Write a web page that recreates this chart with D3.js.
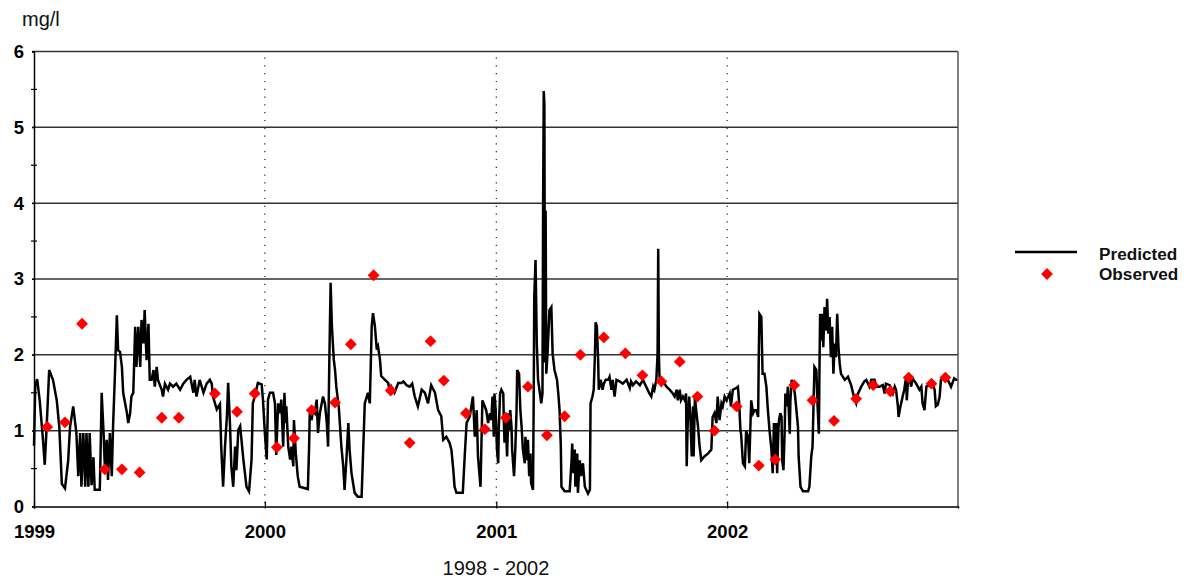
<!DOCTYPE html>
<html>
<head>
<meta charset="utf-8">
<script src="https://d3js.org/d3.v7.min.js"></script>
<style>
  body { margin: 0; background: #fff; }
  svg { display: block; font-family: "Liberation Sans", Arial, sans-serif; }
</style>
</head>
<body>
<svg width="1191" height="582"></svg>
<script>

// predicted concentration, [day of year, mg/l]
var pred1999 = [
  [0,0.80],[2,1.60],[5,1.68],[9,1.40],[14,0.90],[17,0.55],[20,1.05],[24,1.80],[30,1.67],[36,1.40],
  [40,1.05],[44,0.30],[49,0.24],[54,0.60],[57,1.05],[62,1.32],[67,0.97],[70,0.40],[73,0.97],[75,0.26],
  [78,0.97],[81,0.26],[83,0.97],[86,0.26],[88,0.97],[91,0.28],[94,0.65],[96,0.22],[104,0.22],[105,0.60],
  [107,1.50],[110,0.97],[112,0.53],[115,0.88],[117,0.35],[120,0.97],[123,0.40],[125,1.05],[128,1.75],[131,2.52],
  [133,2.06],[136,2.04],[139,1.84],[141,1.50],[147,1.23],[149,1.10],[152,1.23],[154,1.45],[157,1.50],[160,2.37],
  [162,1.84],[165,2.37],[168,1.84],[170,2.46],[173,2.15],[175,2.59],[178,1.93],[181,2.41],[183,1.67],[186,1.67],
  [189,1.80],[191,1.58],[194,1.84],[196,1.67],[202,1.54],[204,1.45],[207,1.62],[212,1.54],[215,1.62],[220,1.58],
  [225,1.62],[231,1.54],[236,1.62],[241,1.67],[247,1.71],[252,1.50],[254,1.67],[257,1.45],[262,1.67],[268,1.50],
  [273,1.62],[278,1.67],[281,1.62],[283,1.45],[289,1.28],[294,1.35],[296,0.79],[299,0.26],[302,0.79],[305,1.19],
  [307,1.63],[310,1.06],[312,0.53],[315,0.26],[318,0.79],[320,0.48],[323,1.01],[326,1.06],[331,0.62],[336,0.26],
  [340,0.20],[344,0.62],[346,1.36],[349,1.45],[354,1.63],[360,1.61],[362,1.41]
];
var pred2000 = [
  [0,0.97],[3,0.62],[5,1.41],[8,1.50],[13,1.50],[16,1.36],[18,0.68],[21,1.36],[24,1.23],[26,1.41],
  [29,0.79],[31,1.50],[33,1.10],[34,1.32],[37,0.79],[40,0.62],[42,0.79],[45,0.53],[46,1.14],[49,0.70],
  [52,0.40],[55,0.26],[68,0.23],[70,0.79],[71,1.23],[74,1.14],[76,1.27],[79,1.23],[82,1.41],[84,0.97],
  [87,1.23],[92,1.45],[95,1.36],[98,1.10],[100,0.79],[102,1.94],[104,2.95],[106,2.38],[109,1.94],[111,1.80],
  [113,1.58],[117,1.30],[121,0.79],[124,0.53],[126,0.22],[129,0.62],[132,1.10],[134,0.75],[137,0.44],[142,0.18],
  [147,0.13],[153,0.13],[155,0.62],[158,1.36],[163,1.50],[166,1.36],[169,2.38],[171,2.55],[174,2.38],[177,2.07],
  [179,2.11],[182,1.94],[184,1.72],[190,1.67],[195,1.63],[198,1.50],[200,1.58],[205,1.50],[211,1.63],[216,1.63],
  [219,1.65],[224,1.60],[229,1.58],[233,1.62],[237,1.45],[242,1.32],[248,1.54],[253,1.50],[258,1.36],[263,1.60],
  [269,1.50],[274,1.27],[279,1.19],[282,0.88],[287,0.92],[292,0.84],[295,0.75],[298,0.48],[300,0.26],[303,0.18],
  [313,0.18],[316,0.66],[319,1.10],[324,1.19],[329,1.45],[332,0.92],[335,1.27],[337,0.66],[341,0.26],[344,1.40],
  [350,1.27],[353,1.10],[356,1.23],[358,1.14],[360,1.45],[362,0.92],[363,1.49],[365,1.27]
];
var pred2001 = [
  [1,0.75],[3,0.57],[4,1.05],[6,1.49],[8,1.54],[11,1.49],[12,1.10],[13,0.84],[15,1.14],[17,0.66],
  [19,1.23],[20,1.01],[22,1.27],[24,1.05],[25,0.75],[28,0.40],[30,0.75],[32,1.27],[33,1.80],[36,1.75],
  [38,1.27],[40,1.05],[42,0.75],[45,0.57],[46,0.92],[48,0.61],[50,0.88],[52,0.40],[54,0.70],[55,0.31],
  [58,0.22],[59,1.27],[60,2.76],[62,3.25],[64,2.15],[66,1.67],[69,1.49],[71,1.36],[73,1.49],[74,4.00],
  [75,5.48],[76,5.30],[77,1.90],[78,3.90],[79,1.75],[81,2.02],[84,2.59],[87,2.63],[89,2.02],[92,1.80],
  [96,1.67],[98,1.49],[100,1.27],[102,0.79],[103,0.26],[108,0.20],[116,0.20],[119,0.61],[120,0.83],[122,0.44],
  [124,0.75],[125,0.26],[128,0.70],[129,0.18],[132,0.61],[134,0.40],[137,0.57],[140,0.26],[145,0.17],[148,0.22],
  [149,1.36],[152,1.45],[154,1.54],[156,2.02],[157,2.43],[159,2.37],[161,1.93],[162,1.54],[165,1.67],[168,1.54],
  [170,1.62],[173,1.67],[177,1.67],[179,1.71],[182,1.54],[184,1.67],[187,1.45],[190,1.67],[195,1.65],[200,1.62],
  [206,1.67],[211,1.56],[213,1.65],[216,1.60],[221,1.65],[227,1.60],[232,1.67],[237,1.58],[242,1.49],[245,1.45],
  [248,1.58],[250,1.54],[253,1.67],[255,2.02],[256,3.40],[257,2.02],[258,1.71],[261,1.62],[263,1.67],[266,1.62],
  [269,1.58],[274,1.54],[279,1.49],[282,1.45],[285,1.54],[287,1.40],[290,1.54],[292,1.40],[295,1.45],[298,1.40],
  [300,1.49],[301,0.53],[303,1.23],[305,1.45],[307,1.14],[309,0.66],[311,1.32],[312,0.66],[314,1.45],[316,1.27],
  [319,1.05],[321,0.83],[324,0.61],[329,0.66],[335,0.70],[340,0.75],[342,1.18],[345,1.23],[348,1.10],[350,1.45],
  [353,1.14],[356,1.36],[358,1.32],[361,1.45],[364,1.40]
];
var pred2002 = [
  [4,1.49],[6,1.32],[9,1.54],[14,1.56],[17,1.58],[19,1.36],[21,1.00],[22,0.96],[25,0.57],[28,0.53],
  [30,1.00],[33,0.92],[35,0.57],[38,1.40],[41,1.23],[43,1.27],[46,1.27],[49,1.18],[50,2.00],[51,2.54],
  [54,2.50],[56,1.75],[59,1.75],[62,1.58],[64,1.32],[67,1.00],[70,0.75],[72,0.44],[74,1.10],[76,0.66],
  [78,1.10],[79,0.44],[81,1.01],[82,1.14],[84,1.23],[86,1.18],[87,0.61],[89,0.48],[91,1.01],[92,1.49],
  [94,1.32],[96,1.58],[98,1.14],[99,0.96],[100,1.40],[102,1.67],[104,1.62],[107,1.49],[109,1.32],[112,1.05],
  [113,0.66],[116,0.26],[120,0.20],[128,0.20],[130,0.26],[133,0.66],[135,0.79],[138,1.84],[141,1.80],[143,1.32],
  [145,0.96],[146,1.84],[147,2.54],[149,2.19],[150,2.54],[152,2.10],[154,2.63],[157,2.32],[158,2.74],[160,2.28],
  [162,2.50],[164,1.97],[166,2.37],[168,1.75],[170,2.15],[172,1.97],[174,2.54],[176,2.10],[178,1.88],[180,1.75],
  [186,1.67],[191,1.71],[196,1.60],[201,1.43],[204,1.36],[207,1.49],[212,1.58],[217,1.65],[220,1.67],[225,1.58],
  [228,1.67],[233,1.67],[236,1.58],[241,1.58],[246,1.60],[249,1.49],[251,1.62],[257,1.60],[262,1.49],[265,1.58],
  [267,1.54],[270,1.32],[271,1.18],[274,1.32],[278,1.47],[280,1.54],[283,1.71],[284,1.40],[286,1.67],[288,1.71],
  [291,1.58],[293,1.69],[299,1.62],[304,1.54],[307,1.58],[309,1.36],[312,1.27],[315,1.58],[320,1.60],[325,1.62],
  [328,1.54],[330,1.32],[333,1.34],[336,1.45],[338,1.67],[344,1.69],[349,1.67],[354,1.58],[359,1.69],[362,1.67],
  [364,1.67]
];

// observed samples, [day of year, mg/l]
var obs1999 = [[21,1.05],[49,1.11],[76,2.41],[112,0.49],[139,0.49],[167,0.45],[202,1.17],[229,1.17],[286,1.49],[321,1.25],[349,1.49]];
var obs2000 = [[19,0.78],[46,0.90],[74,1.27],[111,1.37],[136,2.14],[172,3.05],[199,1.53],[229,0.84],[262,2.18],[283,1.66],[318,1.23],[348,1.02]];
var obs2001 = [[15,1.17],[50,1.58],[80,0.94],[108,1.19],[133,2.00],[170,2.23],[204,2.02],[231,1.73],[261,1.65],[290,1.91],[318,1.45],[345,1.00]];
var obs2002 = [[15,1.32],[50,0.54],[76,0.62],[106,1.60],[135,1.40],[169,1.13],[204,1.42],[231,1.60],[258,1.52],[287,1.70],[323,1.62],[345,1.70]];

var years = [1999, 2000, 2001, 2002];
var valueTicks = [0, 1, 2, 3, 4, 5, 6];
var gridValues = [1, 2, 3, 4, 5];
var minorTicks = [0.5, 1.5, 2.5, 3.5, 4.5, 5.5];

var svg = d3.select('svg');

var x = d3.scaleTime()
    .domain([new Date(1999, 0, 1), new Date(2003, 0, 1)])
    .range([34, 958]);
var y = d3.scaleLinear()
    .domain([0, 6])
    .range([506.5, 51.5]);

function toPoints(year, rows) {
  return rows.map(function(d) {
    return { date: d3.timeDay.offset(new Date(year, 0, 1), d[0]), value: d[1] };
  });
}

var predicted = [].concat(
  toPoints(1999, pred1999), toPoints(2000, pred2000),
  toPoints(2001, pred2001), toPoints(2002, pred2002));
var observed = [].concat(
  toPoints(1999, obs1999), toPoints(2000, obs2000),
  toPoints(2001, obs2001), toPoints(2002, obs2002));

// horizontal grid + frame
svg.append('g')
  .selectAll('line')
  .data(gridValues.concat([6]))
  .enter().append('line')
    .attr('x1', 32).attr('x2', 958)
    .attr('y1', function(d) { return y(d); })
    .attr('y2', function(d) { return y(d); })
    .attr('stroke', '#333')
    .attr('stroke-width', 1.5);

svg.append('line')
    .attr('x1', 958).attr('x2', 958)
    .attr('y1', y(6)).attr('y2', y(0))
    .attr('stroke', '#555')
    .attr('stroke-width', 1.5);

// dotted year separators
svg.append('g')
  .selectAll('line')
  .data(years.slice(1))
  .enter().append('line')
    .attr('x1', function(d) { return x(new Date(d, 0, 1)); })
    .attr('x2', function(d) { return x(new Date(d, 0, 1)); })
    .attr('y1', y(6) + 6).attr('y2', y(0))
    .attr('stroke', '#222')
    .attr('stroke-width', 1.2)
    .attr('stroke-dasharray', '1.2,6.6');

// y axis
var yAxis = svg.append('g')
    .attr('transform', 'translate(34,0)')
    .call(d3.axisLeft(y).tickValues(valueTicks).tickSize(2).tickPadding(8).tickFormat(d3.format('d')));
yAxis.select('.domain').attr('stroke', '#000').attr('stroke-width', 1.5);
yAxis.selectAll('text')
    .attr('font-size', 18.5).attr('font-weight', 'bold')
    .attr('font-family', '"Liberation Sans", Arial, sans-serif')
    .attr('fill', '#000');

svg.append('g')
  .selectAll('line')
  .data(minorTicks)
  .enter().append('line')
    .attr('x1', 31).attr('x2', 37)
    .attr('y1', function(d) { return y(d); })
    .attr('y2', function(d) { return y(d); })
    .attr('stroke', '#000')
    .attr('stroke-width', 1.2);

// x axis
var xAxis = svg.append('g')
    .attr('transform', 'translate(0,' + y(0) + ')')
    .call(d3.axisBottom(x)
      .tickValues(years.map(function(d) { return new Date(d, 0, 1); }))
      .tickSize(2)
      .tickFormat(d3.timeFormat('%Y')));
xAxis.select('.domain').attr('stroke', '#000').attr('stroke-width', 1.5);
xAxis.selectAll('.tick line').attr('y1', -5).attr('y2', 2).attr('stroke-width', 1.2);
xAxis.selectAll('text')
    .attr('y', 31.5).attr('dy', 0)
    .attr('font-size', 18.5).attr('font-weight', 'bold')
    .attr('font-family', '"Liberation Sans", Arial, sans-serif')
    .attr('fill', '#000');

// predicted line
var line = d3.line()
    .x(function(d) { return x(d.date); })
    .y(function(d) { return y(d.value); });

svg.append('path')
    .datum(predicted)
    .attr('d', line)
    .attr('fill', 'none')
    .attr('stroke', '#000')
    .attr('stroke-width', 2.5)
    .attr('stroke-linejoin', 'miter');

// observed diamonds
var diamond = d3.symbol().type(d3.symbolSquare).size(70);

svg.append('g')
  .selectAll('path')
  .data(observed)
  .enter().append('path')
    .attr('d', diamond)
    .attr('transform', function(d) {
      return 'translate(' + x(d.date) + ',' + y(d.value) + ') rotate(45)';
    })
    .attr('fill', '#ff0000');

// labels
svg.append('text')
    .attr('x', 22).attr('y', 26)
    .attr('font-size', 20)
    .attr('fill', '#111')
    .text('mg/l');

svg.append('text')
    .attr('x', 496).attr('y', 575)
    .attr('text-anchor', 'middle')
    .attr('font-size', 20)
    .attr('fill', '#111')
    .text('1998 - 2002');

// legend
var legend = svg.append('g');
legend.append('line')
    .attr('x1', 1015).attr('x2', 1077)
    .attr('y1', 252).attr('y2', 252)
    .attr('stroke', '#000')
    .attr('stroke-width', 2.5);
legend.append('path')
    .attr('d', diamond)
    .attr('transform', 'translate(1047,274) rotate(45)')
    .attr('fill', '#ff0000');
legend.selectAll('text')
  .data(['Predicted', 'Observed'])
  .enter().append('text')
    .attr('x', 1099)
    .attr('y', function(d, i) { return 260 + i * 20; })
    .attr('font-size', 17.2)
    .attr('font-weight', 'bold')
    .attr('fill', '#111')
    .text(function(d) { return d; });

</script>
</body>
</html>
